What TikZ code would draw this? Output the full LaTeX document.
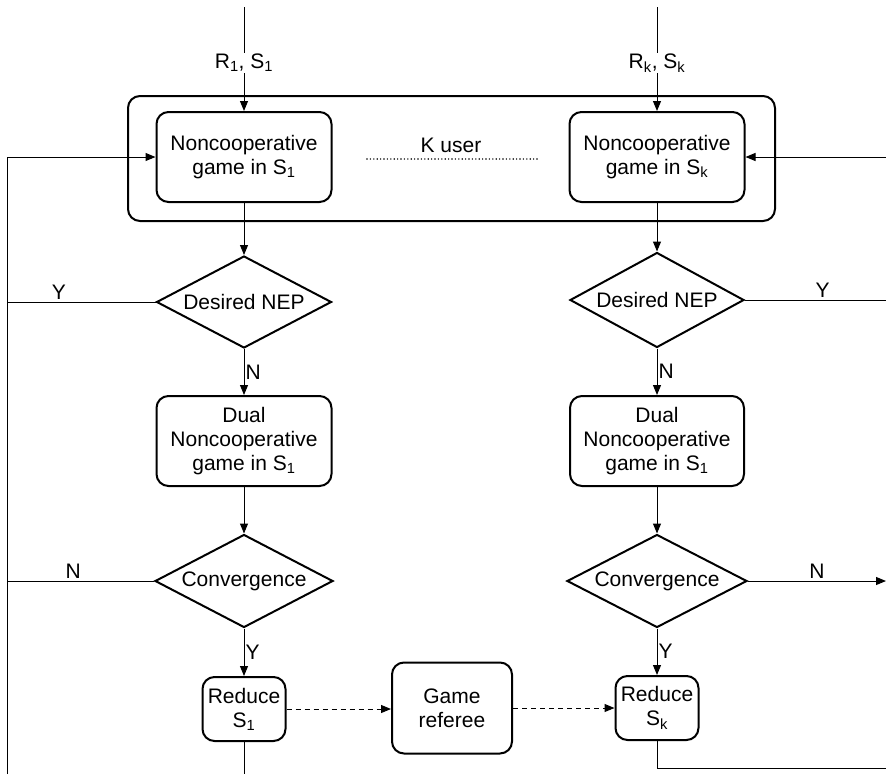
\documentclass[tikz,border=0pt]{standalone}
\usepackage{fontspec}
\setmainfont{Liberation Sans}
\usetikzlibrary{arrows.meta,shapes.geometric}
\begin{document}
\begin{tikzpicture}[x=1pt,y=-1pt,
  every node/.style={font=\fontsize{21}{24}\selectfont},
  box/.style={draw,line width=2pt,rounded corners=12pt,align=center,inner sep=2pt},
  dec/.style={draw,diamond,line width=2pt,inner sep=0pt,aspect=1.9},
  conn/.style={line width=1pt},
  arr/.style={line width=1pt,-{Triangle[length=10pt,width=8pt]}},
  darr/.style={line width=1pt,dash pattern=on 5pt off 4pt,-{Triangle[length=10pt,width=8pt]}},
  lab/.style={inner sep=1pt}]
\useasboundingbox (0,0) rectangle (886,774);
% container
\node[draw,line width=2pt,rounded corners=12pt,minimum width=647pt,minimum height=125pt] (cont) at (451.5,158.5) {};
% top boxes
\node[box,minimum width=175pt,minimum height=90pt] (g1) at (244,157) {Noncooperative\\game in S\textsubscript{1}};
\node[box,minimum width=175pt,minimum height=90pt] (gk) at (657,157) {Noncooperative\\game in S\textsubscript{k}};
\node[lab] (ku) at (451,145) {K user};
\coordinate (dotA) at (367,159);
\coordinate (dotB) at (537,159);
\draw[line width=1.6pt,line cap=round,dash pattern=on 0pt off 3.4pt] (dotA) -- (dotB);
% inputs
\node[lab] (in1) at (244,63) {R\textsubscript{1}, S\textsubscript{1}};
\node[lab] (ink) at (657,63) {R\textsubscript{k}, S\textsubscript{k}};
\coordinate (t1) at (244,7);
\coordinate (tk) at (657,7);
\draw[conn] (t1) -- (in1.north);
\draw[conn] (tk) -- (ink.north);
\draw[arr] (in1.south) -- (g1.north);
\draw[arr] (ink.south) -- (gk.north);
% decisions
\node[dec,minimum width=175pt,minimum height=92pt] (d1) at (244,302) {Desired NEP};
\node[dec,minimum width=174pt,minimum height=95pt] (dk) at (657,300) {Desired NEP};
\node[box,minimum width=175pt,minimum height=90pt] (u1) at (244,441) {Dual\\Noncooperative\\game in S\textsubscript{1}};
\node[box,minimum width=174pt,minimum height=90pt] (uk) at (657,441) {Dual\\Noncooperative\\game in S\textsubscript{1}};
\node[dec,minimum width=178pt,minimum height=93pt] (c1) at (244,581) {Convergence};
\node[dec,minimum width=180pt,minimum height=93pt] (ck) at (657,581) {Convergence};
\node[box,minimum width=83pt,minimum height=64pt,inner sep=1pt] (r1) at (244,709) {Reduce\\S\textsubscript{1}};
\node[box,minimum width=83pt,minimum height=64pt,inner sep=1pt] (rk) at (657,708) {Reduce\\S\textsubscript{k}};
\node[box,minimum width=120pt,minimum height=91pt] (gr) at (452,708) {Game\\referee};
% vertical flow
\draw[arr] (g1.south) -- (d1.north);
\draw[arr] (gk.south) -- (dk.north);
\draw[arr] (d1.south) -- node[right,lab]{N} (u1.north);
\draw[arr] (dk.south) -- node[right,lab]{N} (uk.north);
\draw[arr] (u1.south) -- (c1.north);
\draw[arr] (uk.south) -- (ck.north);
\draw[arr] (c1.south) -- node[right,lab]{Y} (r1.north);
\draw[arr] (ck.south) -- node[right,lab]{Y} (rk.north);
% referee
\draw[darr] (r1.east) -- (gr.west |- r1.east);
\draw[darr] (gr.east |- rk.west) -- (rk.west);
% left feedback
\coordinate (Lb) at (7,774);
\coordinate (Lt) at (7,157);
\coordinate (Ly) at (7,302);
\coordinate (Ln) at (7,581);
\draw[conn] (Lb) -- (Lt);
\draw[arr] (Lt) -- (g1.west);
\draw[conn] (d1.west) -- node[above,pos=0.65,lab,yshift=1pt]{Y} (Ly);
\draw[conn] (c1.west) -- node[above,pos=0.55,lab,yshift=1pt]{N} (Ln);
\coordinate (b1) at (244,774);
\draw[conn] (r1.south) -- (b1);
% right feedback
\coordinate (Rt) at (886,157);
\coordinate (Ry) at (886,300);
\coordinate (Rn) at (886,581);
\coordinate (Rb) at (886,768);
\draw[arr] (Rt) -- (gk.east);
\draw[conn] (dk.east) -- node[above,pos=0.55,lab,yshift=1pt]{Y} (Ry);
\draw[arr] (ck.east) -- node[above,pos=0.5,lab,yshift=1pt]{N} (Rn);
\draw[conn] (rk.south) |- (Rb);
\end{tikzpicture}
\end{document}
